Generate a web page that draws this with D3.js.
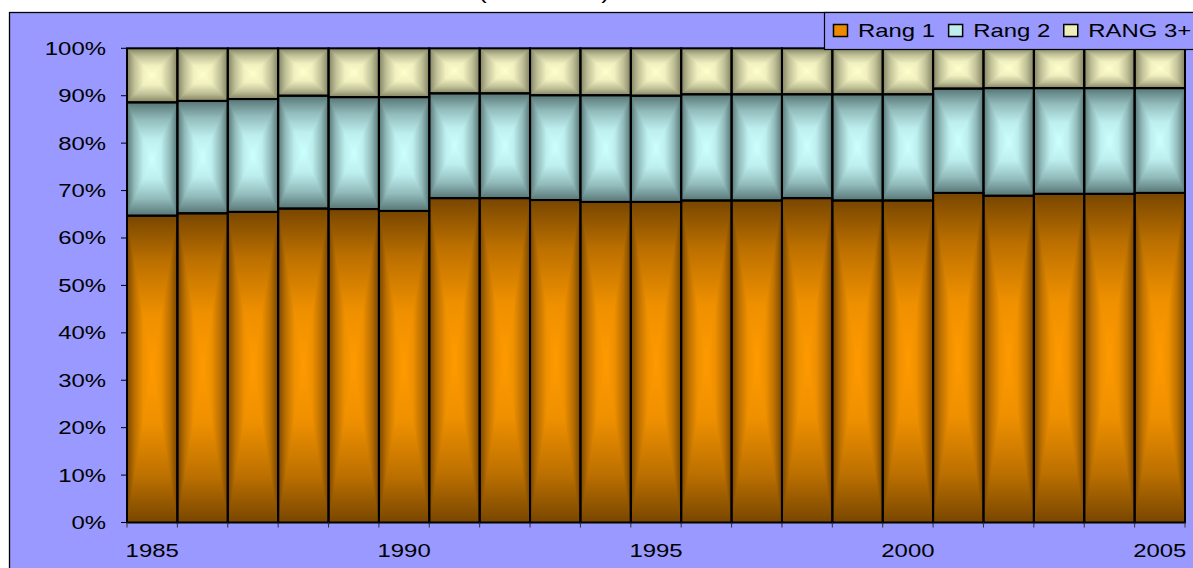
<!DOCTYPE html>
<html><head><meta charset="utf-8">
<script src="https://cdn.jsdelivr.net/npm/d3@7"></script>
<style>html,body{margin:0;padding:0;background:#fff;overflow:hidden}</style>
</head><body><svg id="c" width="1193" height="568" xmlns="http://www.w3.org/2000/svg"></svg>
<script>
// ---- data ----
const years = [1985,1986,1987,1988,1989,1990,1991,1992,1993,1994,1995,1996,1997,1998,1999,2000,2001,2002,2003,2004,2005];
const rang1 = [64.7,65.2,65.5,66.2,66.1,65.7,68.4,68.4,68.0,67.6,67.6,67.9,67.9,68.4,67.9,67.9,69.5,68.9,69.3,69.3,69.5];
const rang2 = [23.9,23.7,23.8,23.8,23.6,24.0,22.1,22.1,22.1,22.5,22.4,22.4,22.4,21.9,22.4,22.4,22.0,22.7,22.3,22.3,22.1];
const rang3 = [11.4,11.1,10.7,10.0,10.3,10.3,9.5,9.5,9.9,9.9,10.0,9.7,9.7,9.7,9.7,9.7,8.5,8.4,8.4,8.4,8.4];
const seriesNames = ["Rang 1","Rang 2","RANG 3+"];
const yTickValues = [0,0.1,0.2,0.3,0.4,0.5,0.6,0.7,0.8,0.9,1.0];
const xLabelYears = [1985,1990,1995,2000,2005];
const titleText = "(1985-2005)";

// ---- styles ----
const keys = ["r1","r2","r3"];
const pal = {
  r1:{center:"#ff9a00", edge:"#784600", legend:"#ee8a00"},
  r2:{center:"#ccffff", edge:"#587676", legend:"#bfeeee"},
  r3:{center:"#ffffcc", edge:"#838364", legend:"#eeeebb"}
};
// profile: t = 0 at centre -> 1 at edge, with amount of edge colour
const profile = [[0,0],[0.35,0.12],[0.7,0.5],[1,1]];
const SX = 1.33; // horizontal text stretch seen in the reference
const FONT = "'Liberation Sans', Arial, sans-serif";

const svg = d3.select("#c");
const plot = {left:127, right:1185, top:48.3, bottom:522.5};

// background frame
svg.append("rect").attr("x",9.5).attr("y",12.5).attr("width",1300).attr("height",700)
  .attr("fill","#9999ff").attr("stroke","#000").attr("stroke-width",1.3);

// partially visible title (cut off at the top in the reference too)
svg.append("text").attr("transform","translate(544,-1.5) scale("+SX+",1)")
  .attr("text-anchor","middle").attr("font-family",FONT).attr("font-size",18).attr("fill","#000")
  .text(titleText);

const x = d3.scaleBand().domain(years).range([plot.left, plot.right]).padding(0);
const y = d3.scaleLinear().domain([0,1]).range([plot.bottom, plot.top]);

const rows = years.map((yr,i)=>({year:yr, r1:rang1[i], r2:rang2[i], r3:rang3[i]}));
const layers = d3.stack().keys(keys).offset(d3.stackOffsetExpand)(rows);

// gradients
const defs = svg.append("defs");
keys.forEach(k=>{
  const c = pal[k];
  const mix = d3.interpolateRgb(c.center, c.edge);
  const v = defs.append("linearGradient").attr("id","v-"+k).attr("x1",0).attr("y1",0).attr("x2",0).attr("y2",1);
  const vs = [];
  profile.forEach(([t,a])=>{ vs.push([0.5 - t/2, a]); });
  profile.slice(1).forEach(([t,a])=>{ vs.push([0.5 + t/2, a]); });
  vs.sort((p,q)=>p[0]-q[0]).forEach(([o,a])=>v.append("stop").attr("offset",o).attr("stop-color",mix(a)));
  const l = defs.append("linearGradient").attr("id","l-"+k).attr("x1",1).attr("y1",0).attr("x2",0).attr("y2",0);
  const r = defs.append("linearGradient").attr("id","r-"+k).attr("x1",0).attr("y1",0).attr("x2",1).attr("y2",0);
  profile.forEach(([t,a])=>{
    l.append("stop").attr("offset",t).attr("stop-color",mix(a));
    r.append("stop").attr("offset",t).attr("stop-color",mix(a));
  });
});

const bw = x.bandwidth();
const segs = [];
layers.forEach(layer=>{
  layer.forEach(d=>{
    const x0 = x(d.data.year), y0 = y(d[1]), h = y(d[0]) - y(d[1]);
    segs.push({k:layer.key, x0, y0, w:bw, h});
  });
});

const gBars = svg.append("g");
const seg = gBars.selectAll("g.seg").data(segs).join("g").attr("class","seg");
seg.append("rect").attr("x",d=>d.x0).attr("y",d=>d.y0).attr("width",d=>d.w).attr("height",d=>d.h)
  .attr("fill",d=>"url(#v-"+d.k+")");
seg.append("path").attr("d",d=>{
  const cx=d.x0+d.w/2, cy=d.y0+d.h/2;
  return `M${d.x0},${d.y0}L${cx},${cy}L${d.x0},${d.y0+d.h}Z`;
}).attr("fill",d=>"url(#l-"+d.k+")");
seg.append("path").attr("d",d=>{
  const cx=d.x0+d.w/2, cy=d.y0+d.h/2, x1=d.x0+d.w;
  return `M${x1},${d.y0}L${cx},${cy}L${x1},${d.y0+d.h}Z`;
}).attr("fill",d=>"url(#r-"+d.k+")");
gBars.selectAll("rect.out").data(segs).join("rect").attr("class","out")
  .attr("x",d=>d.x0).attr("y",d=>d.y0).attr("width",d=>d.w).attr("height",d=>d.h)
  .attr("fill","none").attr("stroke","#000").attr("stroke-width",2);

// y axis ticks + labels
const gy = svg.append("g");
gy.selectAll("line").data(yTickValues).join("line")
  .attr("x1",plot.left-6).attr("x2",plot.left).attr("y1",d=>y(d)).attr("y2",d=>y(d))
  .attr("stroke","#000").attr("stroke-width",1);
gy.selectAll("text").data(yTickValues).join("text")
  .attr("transform",d=>`translate(106,${y(d)+6.5}) scale(${SX},1)`)
  .attr("text-anchor","end").attr("font-family",FONT).attr("font-size",18).attr("fill","#000")
  .text(d3.format(".0%"));

// x axis ticks at category boundaries + labels
const bounds = years.map(yr=>x(yr)).concat([x(years[years.length-1])+bw]);
const gx = svg.append("g");
gx.selectAll("line").data(bounds).join("line")
  .attr("x1",d=>d).attr("x2",d=>d).attr("y1",plot.bottom).attr("y2",plot.bottom+5)
  .attr("stroke","#333").attr("stroke-width",1);
gx.selectAll("text").data(xLabelYears).join("text")
  .attr("transform",d=>`translate(${x(d)+bw/2},556.5) scale(${SX},1)`)
  .attr("text-anchor","middle").attr("font-family",FONT).attr("font-size",18).attr("fill","#000")
  .text(d=>d);

// legend
const gl = svg.append("g");
gl.append("rect").attr("x",824.5).attr("y",12.5).attr("width",500).attr("height",37)
  .attr("fill","#9999ff").attr("stroke","#000").attr("stroke-width",1.2);
let cx = 833;
keys.forEach((k,i)=>{
  gl.append("rect").attr("x",cx+0.5).attr("y",24.5).attr("width",14).attr("height",12)
    .attr("fill",pal[k].legend).attr("stroke","#000").attr("stroke-width",1.5);
  const t = gl.append("text").attr("transform",`translate(${cx+25},37) scale(${SX},1)`)
    .attr("font-family",FONT).attr("font-size",18).attr("fill","#000").text(seriesNames[i]);
  const tw = t.node().getComputedTextLength()*SX;
  cx = cx + 25 + tw + 13;
});
</script></body></html>
